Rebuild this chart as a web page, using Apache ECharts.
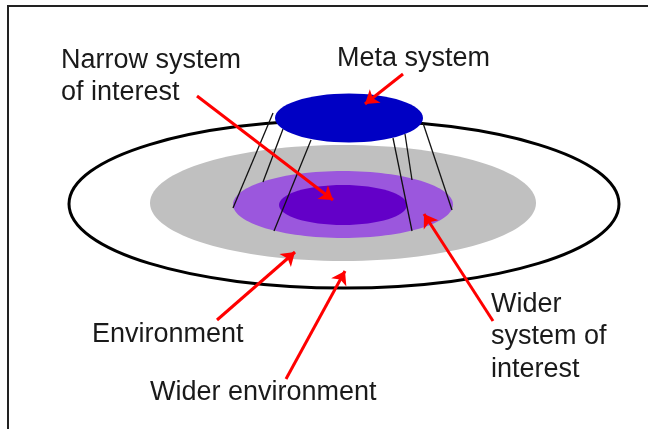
<!DOCTYPE html>
<html>
<head>
<meta charset="utf-8">
<title>System of interest</title>
<script src="https://cdn.jsdelivr.net/npm/echarts@6/dist/echarts.min.js"></script>
<style>
    html, body { margin: 0; padding: 0; background: #fff; }
    #chart { width: 648px; height: 429px; }
</style>
</head>
<body>
<div id="chart"></div>
<script>
// ellipses, drawn back to front (pixel-like data units, y down)
const ringNames = ['Wider environment', 'Environment', 'Wider system of interest', 'Narrow system of interest', 'Meta system'];
const ringCx = [344, 343, 343, 343, 349];
const ringCy = [204, 203, 204.5, 205, 118];
const ringRx = [275, 193, 110, 64, 74];
const ringRy = [84, 58, 33.5, 20, 24.5];

// thin legs from the meta system down to the systems of interest
const legFrom = [[273, 113], [283, 129], [311, 140], [393, 138], [405, 134], [423, 123]];
const legTo = [[233, 208], [263, 182], [274, 231], [412, 231], [412, 180], [452, 210]];

// red pointer arrows (tail -> tip)
const arrowFrom = [[403, 74], [197, 96], [217, 320], [286, 379], [493, 321]];
const arrowTo = [[365, 104], [333, 200], [295, 252], [345, 271], [424, 214]];

// labels (top-left anchor)
const labelText = ['Narrow system\nof interest', 'Meta system', 'Environment', 'Wider environment', 'Wider\nsystem of\ninterest'];
const labelX = [61, 337, 92, 150, 491];
const labelY = [44, 42, 318, 376, 288];

const ringFill = ['#ffffff', '#c0c0c0', '#9b57dd', '#6300c8', '#0000c4'];
const ringStroke = ['#000000', null, null, null, null];

const chart = echarts.init(document.getElementById('chart'));

const option = {
    animation: false,
    grid: { left: 0, right: 0, top: 0, bottom: 0 },
    xAxis: { type: 'value', min: 0, max: 648, show: false },
    yAxis: { type: 'value', min: 0, max: 429, inverse: true, show: false },
    graphic: [{
        type: 'rect',
        shape: { x: 8, y: 6, width: 700, height: 500 },
        style: { fill: null, stroke: '#222', lineWidth: 2 },
        z: 100
    }],
    series: [
        {
            type: 'custom',
            name: 'rings',
            z: 1,
            data: ringNames.slice(0, 4).map((n, i) => [ringCx[i], ringCy[i], ringRx[i], ringRy[i], i]),
            renderItem: function (params, api) {
                const i = api.value(4);
                const c = api.coord([api.value(0), api.value(1)]);
                const s = api.size([api.value(2), api.value(3)]);
                return {
                    type: 'ellipse',
                    shape: { cx: c[0], cy: c[1], rx: s[0], ry: s[1] },
                    style: { fill: ringFill[i], stroke: ringStroke[i], lineWidth: 3 }
                };
            }
        },
        {
            type: 'lines',
            coordinateSystem: 'cartesian2d',
            z: 2,
            lineStyle: { color: '#111', width: 1.3, opacity: 1 },
            data: legFrom.map((p, i) => ({ coords: [p, legTo[i]] }))
        },
        {
            type: 'custom',
            name: 'meta',
            z: 3,
            data: [[ringCx[4], ringCy[4], ringRx[4], ringRy[4], 4]],
            renderItem: function (params, api) {
                const i = api.value(4);
                const c = api.coord([api.value(0), api.value(1)]);
                const s = api.size([api.value(2), api.value(3)]);
                return {
                    type: 'ellipse',
                    shape: { cx: c[0], cy: c[1], rx: s[0], ry: s[1] },
                    style: { fill: ringFill[i] }
                };
            }
        },
        {
            type: 'lines',
            coordinateSystem: 'cartesian2d',
            z: 4,
            symbol: ['none', 'arrow'],
            symbolSize: [11, 13],
            lineStyle: { color: '#ff0000', width: 3, opacity: 1 },
            data: arrowFrom.map((p, i) => ({ coords: [p, arrowTo[i]] }))
        },
        {
            type: 'custom',
            name: 'labels',
            z: 5,
            data: labelText.map((t, i) => [labelX[i], labelY[i], i]),
            renderItem: function (params, api) {
                const i = api.value(2);
                const c = api.coord([api.value(0), api.value(1)]);
                return {
                    type: 'text',
                    style: {
                        x: c[0],
                        y: c[1],
                        text: labelText[i],
                        font: '27px "Liberation Sans", Arial, sans-serif',
                        fill: '#1a1a1a',
                        align: 'left',
                        verticalAlign: 'top',
                        lineHeight: 32.5
                    }
                };
            }
        }
    ]
};

chart.setOption(option);
</script>
</body>
</html>
